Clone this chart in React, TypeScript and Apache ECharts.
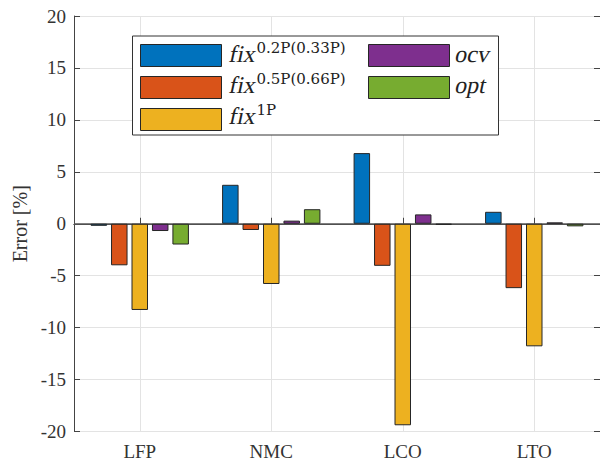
import React, { useEffect, useRef } from "react";
import * as echarts from "echarts";

const categories = ["LFP", "NMC", "LCO", "LTO"];
const fix02 = [-0.2, 3.75, 6.8, 1.15];
const fix05 = [-4.0, -0.6, -4.05, -6.2];
const fix1 = [-8.3, -5.8, -19.4, -11.8];
const ocv = [-0.7, 0.3, 0.9, 0.13];
const opt = [-2.0, 1.4, -0.1, -0.25];
const yTicks = { min: -20, max: 20, interval: 5 };

const seriesNames = ["fix02", "fix05", "fix1", "ocv", "opt"];
const seriesData = [fix02, fix05, fix1, ocv, opt];
const colors = ["#0072BD", "#D95319", "#EDB120", "#7E2F8E", "#77AC30"];
// legend label: [italic base, superscript]
const legendBase = ["fix", "fix", "fix", "ocv", "opt"];
const legendSup = ["0.2P(0.33P)", "0.5P(0.66P)", "1P", "", ""];

const FONT = "Liberation Serif";
const SUPFONT = "DejaVu Serif";
const TXT = "#333333";
const AX = "#444444";

export default function App() {
  const ref = useRef<HTMLDivElement>(null);
  useEffect(() => {
    if (!ref.current) return;
    const chart = echarts.init(ref.current, null, { renderer: "svg" });
    const legendCommon = {
      orient: "vertical",
      icon: "rect",
      itemWidth: 81,
      itemHeight: 22,
      itemGap: 9,
      padding: 0,
      selectedMode: false,
      formatter: () => "",
      itemStyle: { borderColor: "#262626", borderWidth: 1 },
    };
    const labelGraphics: any[] = [];
    seriesNames.forEach((_, k) => {
      const col = k < 3 ? 0 : 1;
      const row = k < 3 ? k : k - 3;
      const bx = col === 0 ? 228 : 454;
      const cy = 54 + row * 31;
      labelGraphics.push({
        type: "text",
        z: 10,
        x: bx,
        y: cy,
        originX: 0,
        originY: 8,
        skewX: -0.21,
        style: {
          text: legendBase[k],
          fontFamily: FONT,
          fontSize: 24,
          fill: "#222",
          align: "left",
          verticalAlign: "middle",
        },
      });
      if (legendSup[k]) {
        labelGraphics.push({
          type: "text",
          z: 10,
          x: bx + 28.5,
          y: cy - 6,
          style: {
            text: legendSup[k],
            fontFamily: SUPFONT,
            fontSize: 15,
            fill: "#222",
            align: "left",
            verticalAlign: "middle",
          },
        });
      }
    });
    chart.setOption({
      animation: false,
      backgroundColor: "#fff",
      textStyle: { fontFamily: FONT },
      grid: { left: 74, right: -1, top: 16, bottom: 30.5 },
      graphic: [
        {
          type: "rect",
          z: 3,
          shape: { x: 132.5, y: 36, width: 366, height: 99 },
          style: { fill: "#fff", stroke: "#333", lineWidth: 1 },
        },
        ...labelGraphics,
      ],
      legend: [
        { ...legendCommon, left: 140, top: 44, data: ["fix02", "fix05", "fix1"] },
        { ...legendCommon, left: 368, top: 44, data: ["ocv", "opt"] },
      ],
      xAxis: [
        {
          type: "category",
          data: categories,
          position: "bottom",
          axisLine: { show: true, lineStyle: { color: AX, width: 1 } },
          axisTick: { show: true, inside: true, alignWithLabel: true, length: 6, lineStyle: { color: AX } },
          axisLabel: { fontFamily: FONT, fontSize: 19, color: TXT, margin: 10 },
          splitLine: { show: true, alignWithLabel: true, lineStyle: { color: "#e3e3e3", width: 1 } },
        },
        {
          type: "category",
          data: categories,
          position: "top",
          axisLine: { show: true, lineStyle: { color: AX, width: 1 } },
          axisTick: { show: true, inside: true, alignWithLabel: true, length: 6, lineStyle: { color: AX } },
          axisLabel: { show: false },
          splitLine: { show: false },
        },
      ],
      yAxis: [
        {
          type: "value",
          ...yTicks,
          position: "left",
          name: "Error [%]",
          nameLocation: "middle",
          nameGap: 43,
          nameTextStyle: { fontFamily: FONT, fontSize: 20, color: TXT },
          axisLine: { show: true, lineStyle: { color: AX, width: 1 } },
          axisTick: { show: true, inside: true, length: 6, lineStyle: { color: AX } },
          axisLabel: { fontFamily: FONT, fontSize: 19, color: TXT, margin: 8 },
          splitLine: { show: true, lineStyle: { color: "#e3e3e3", width: 1 } },
        },
        {
          type: "value",
          ...yTicks,
          position: "right",
          axisLine: { show: true, lineStyle: { color: AX, width: 1 } },
          axisTick: { show: true, inside: true, length: 6, lineStyle: { color: AX } },
          axisLabel: { show: false },
          splitLine: { show: false },
        },
      ],
      series: seriesNames.map((name, k) => ({
        name,
        type: "bar",
        xAxisIndex: 0,
        yAxisIndex: 0,
        data: seriesData[k],
        barWidth: 16.5,
        barGap: "24%",
        itemStyle: { color: colors[k], borderColor: "#262626", borderWidth: 1 },
        ...(k === 0
          ? {
              markLine: {
                silent: true,
                symbol: "none",
                label: { show: false },
                lineStyle: { color: "#555", type: "solid", width: 1.5 },
                data: [{ yAxis: 0 }],
                z: 1,
              },
            }
          : {}),
      })),
    });
    return () => chart.dispose();
  }, []);
  return (
    <div
      ref={ref}
      style={{ position: "fixed", left: 0, top: 0, width: 600, height: 462 }}
    />
  );
}
